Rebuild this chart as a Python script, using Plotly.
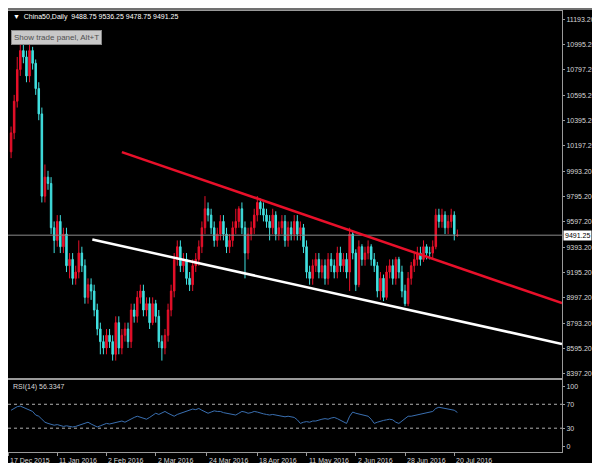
import plotly.graph_objects as go

closes = [10300,10550,10800,10950,10900,10750,10950,10850,10650,10450,
          9800,9950,9900,9550,9450,9600,9400,9500,9250,9300,
          9150,9200,9350,9250,9000,9100,9050,8900,8750,8650,
          8600,8700,8650,8550,8800,8600,8700,8750,8650,8900,
          8850,9000,9050,8900,8950,8800,8950,8850,8650,8600,
          8700,8900,9050,9300,9400,9250,9300,9150,9100,9250,
          9300,9400,9550,9700,9650,9550,9450,9500,9600,9500,
          9400,9450,9550,9600,9700,9550,9350,9500,9550,9650,
          9750,9700,9650,9600,9550,9650,9500,9550,9600,9450,
          9550,9500,9600,9500,9550,9400,9200,9150,9250,9300,
          9200,9250,9150,9300,9250,9200,9350,9250,9300,9200,
          9500,9350,9100,9400,9300,9350,9400,9300,9250,9050,
          9150,9000,9200,9250,9150,9300,9200,9050,8950,9150,
          9250,9300,9350,9300,9400,9350,9350,9400,9650,9600,
          9650,9550,9600,9650,9500,9491.25]
first_open = 10150
last_open = 9488.75
highs = [10350,10600,10900,11000,11000,10950,11000,10980,10880,10700,
         10500,10050,10000,9950,9600,9650,9650,9550,9550,9350,
         9350,9250,9450,9400,9300,9150,9150,9100,8950,8800,
         8700,8750,8750,8700,8850,8850,8750,8800,8800,8950,
         8950,9050,9100,9100,9000,9000,9000,8980,8900,8700,
         8750,8950,9100,9350,9450,9450,9350,9350,9200,9300,
         9350,9450,9600,9800,9750,9700,9600,9550,9650,9650,
         9550,9500,9600,9700,9720,9750,9600,9550,9600,9700,
         9800,9780,9750,9700,9650,9700,9680,9600,9650,9650,
         9600,9600,9650,9650,9600,9580,9450,9250,9300,9350,
         9350,9300,9300,9350,9350,9300,9400,9400,9350,9350,
         9550,9520,9380,9450,9420,9400,9450,9420,9350,9280,
         9200,9180,9250,9300,9300,9320,9320,9250,9100,9200,
         9280,9350,9400,9400,9450,9420,9400,9450,9700,9700,
         9700,9680,9650,9700,9680,9536.25]
lows = [10100,10250,10500,10750,10850,10700,10700,10800,10600,10400,
        9750,9750,9850,9500,9350,9400,9350,9350,9200,9150,
        9100,9100,9150,9200,8950,8950,8980,8850,8700,8550,
        8550,8550,8600,8500,8500,8550,8550,8650,8600,8600,
        8800,8800,8950,8850,8850,8750,8780,8800,8600,8500,
        8550,8650,8850,9000,9250,9200,9200,9100,9050,9050,
        9200,9250,9350,9500,9600,9500,9400,9400,9450,9450,
        9350,9350,9400,9500,9550,9500,9150,9300,9450,9500,
        9600,9650,9600,9550,9450,9500,9450,9450,9500,9400,
        9400,9450,9450,9450,9450,9350,9150,9100,9100,9200,
        9150,9150,9100,9100,9200,9150,9150,9200,9200,9150,
        9050,9300,9050,9080,9250,9250,9300,9250,9200,9000,
        8980,8970,8980,9150,9100,9100,9150,9000,8930,8930,
        9100,9200,9250,9250,9280,9300,9300,9300,9380,9550,
        9550,9500,9500,9550,9450,9478.75]
rsi = [60,63,66,67,65,63,60,58,52,50,
       45,40,38,36,35,36,34,33,34,33,
       32,33,35,37,38,40,37,34,32,34,
       36,38,37,38,40,41,42,40,43,46,
       48,50,48,46,45,48,52,55,53,56,
       58,55,52,50,53,55,57,59,60,62,
       61,63,60,58,55,57,59,58,58,56,
       55,54,53,52,55,58,57,55,56,58,
       57,55,54,53,52,53,52,51,50,49,
       50,49,48,44,38,40,41,40,42,42,
       44,45,46,45,47,48,46,43,40,38,
       50,57,55,54,53,52,50,45,38,40,
       42,43,44,45,44,40,38,42,46,50,
       50,51,52,53,54,55,56,58,63,65,
       64,63,62,62,60,56.33]
price_ticks = [11193.2,10995.2,10797.2,10595.2,10395.2,10197.2,9993.2,9795.2,
               9597.2,9393.2,9195.2,8997.2,8793.2,8595.2,8397.2]
date_labels = ["17 Dec 2015","11 Jan 2016","2 Feb 2016","2 Mar 2016","24 Mar 2016",
               "18 Apr 2016","11 May 2016","2 Jun 2016","28 Jun 2016","20 Jul 2016"]
date_pos = [-1,15,31,47,63.5,80,96,112,128,144]
red_line_x = [36,179]; red_line_y = [10148,8954]
white_line_x = [26.4,179]; white_line_y = [9457,8632]
last_price = 9491.25

n = len(closes)
idx = list(range(n))
opens = [first_open] + closes[:-2] + [last_open]

fig = go.Figure()
fig.add_trace(go.Candlestick(x=idx, open=opens, high=highs, low=lows, close=closes,
    increasing=dict(line=dict(color="#e8102a", width=1), fillcolor="#e8102a"),
    decreasing=dict(line=dict(color="#40e0e0", width=1), fillcolor="#40e0e0"),
    whiskerwidth=0, xaxis="x", yaxis="y", showlegend=False))
fig.add_trace(go.Scatter(x=[-1,179], y=[last_price,last_price], mode="lines",
    line=dict(color="#8a8a8a", width=1), xaxis="x", yaxis="y", showlegend=False))
fig.add_trace(go.Scatter(x=red_line_x, y=red_line_y, mode="lines",
    line=dict(color="#e8102a", width=2.5), xaxis="x", yaxis="y", showlegend=False))
fig.add_trace(go.Scatter(x=white_line_x, y=white_line_y, mode="lines",
    line=dict(color="#ffffff", width=2.5), xaxis="x", yaxis="y", showlegend=False))
fig.add_trace(go.Scatter(x=idx, y=rsi, mode="lines", line=dict(color="#3a6fb0", width=1),
    xaxis="x2", yaxis="y2", showlegend=False))
for lv in (70, 30):
    fig.add_trace(go.Scatter(x=[-1,179], y=[lv,lv], mode="lines",
        line=dict(color="#b0b0b0", width=1, dash="dot"), xaxis="x2", yaxis="y2", showlegend=False))

font = dict(family="Liberation Sans", size=7, color="#d8d8d8")
fig.update_layout(
    width=600, height=463, paper_bgcolor="#000000", plot_bgcolor="#000000",
    margin=dict(l=0, r=46, t=2, b=18), font=font,
    xaxis=dict(range=[-1,179], domain=[0,1], showgrid=False, showticklabels=False,
               zeroline=False, rangeslider=dict(visible=False), anchor="y",
               showline=True, linecolor="#9a9a9a", mirror=True),
    yaxis=dict(range=[8365,11264], domain=[0.170,0.998], side="right", showgrid=False,
               tickvals=price_ticks, ticktext=[f"{v:.2f}" for v in price_ticks],
               ticks="outside", ticklen=2, tickcolor="#9a9a9a", zeroline=False,
               showline=True, linecolor="#9a9a9a", mirror=True, tickfont=font),
    xaxis2=dict(range=[-1,179], domain=[0,1], showgrid=False, anchor="y2",
                tickvals=date_pos, ticktext=[""]*len(date_pos), ticks="outside",
                ticklen=3, tickcolor="#9a9a9a", zeroline=False,
                showline=True, linecolor="#9a9a9a", mirror=True),
    yaxis2=dict(range=[-10,110], domain=[0.002,0.164], side="right", showgrid=False,
                tickvals=[100,70,30,0], ticks="outside", ticklen=2, tickcolor="#9a9a9a",
                zeroline=False, showline=True, linecolor="#9a9a9a", mirror=True, tickfont=font),
)
ann = []
for p, lab in zip(date_pos, date_labels):
    ann.append(dict(x=p, y=0, xref="x2", yref="paper", yanchor="top", xanchor="left",
                    text=lab, showarrow=False, font=font, yshift=-2))
ann.append(dict(x=0.005, y=0.998, xref="paper", yref="paper", xanchor="left", yanchor="top",
                text="▼  China50,Daily  9488.75 9536.25 9478.75 9491.25", showarrow=False,
                font=dict(family="Liberation Sans", size=7, color="#ffffff")))
ann.append(dict(x=0.005, y=0.955, xref="paper", yref="paper", xanchor="left", yanchor="top",
                text="Show trade panel, Alt+T", showarrow=False, bgcolor="#c8c8c8",
                bordercolor="#888888", borderpad=2,
                font=dict(family="Liberation Sans", size=8, color="#505050")))
ann.append(dict(x=0.005, y=0.162, xref="paper", yref="paper", xanchor="left", yanchor="top",
                text="RSI(14) 56.3347", showarrow=False, font=font))
ann.append(dict(x=1, y=last_price, xref="paper", yref="y", xanchor="left", yanchor="middle",
                text="9491.25", showarrow=False, bgcolor="#ffffff",
                font=dict(family="Liberation Sans", size=7, color="#000000"), xshift=1))
fig.update_layout(annotations=ann)
fig.add_shape(type="rect", xref="paper", yref="paper", x0=0, x1=1.1, y0=1.0, y1=1.01,
              fillcolor="#707070", line=dict(width=0))
fig.write_html("out.html")
